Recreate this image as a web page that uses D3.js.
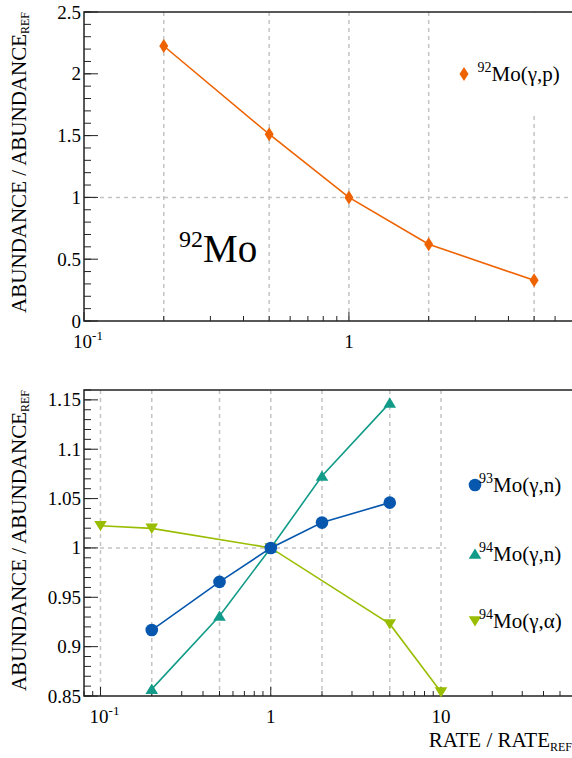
<!DOCTYPE html>
<html><head><meta charset="utf-8">
<script src="https://cdn.jsdelivr.net/npm/d3@7"></script>
<style>body{margin:0;background:#fff}svg{display:block}</style>
</head><body><svg id="c" width="572" height="758" font-family="'Liberation Serif', 'DejaVu Serif', serif"></svg>
<script>
// ---------- data ----------
const topRates = [0.2, 0.5, 1, 2, 5];
const mo92gp = [2.225, 1.511, 1.0, 0.621, 0.329];

const botRatesN = [0.2, 0.5, 1, 2, 5];
const mo93gn = [0.9168, 0.9656, 1.0, 1.0257, 1.0459];
const mo94gn = [0.857, 0.931, 1.0, 1.0728, 1.147];
const botRatesA = [0.1, 0.2, 1, 5, 10];
const mo94ga = [1.0225, 1.0198, 1.0, 0.923, 0.854];

const topYTicks = [0, 0.5, 1, 1.5, 2, 2.5];
const botYTicks = [0.85, 0.9, 0.95, 1, 1.05, 1.1, 1.15];
const topXLabels = [[0.1, "10", "-1"], [1, "1", ""]];
const botXLabels = [[0.1, "10", "-1"], [1, "1", ""], [10, "10", ""]];
const topGridX = [0.2, 0.5, 1, 2, 5];
const botGridX = [0.1, 0.2, 0.5, 1, 2, 5, 10];

const colOrange = "#ee6300", colBlue = "#0657ad", colTeal = "#129b88", colLime = "#99bd00";

const svg = d3.select("#c");
const gridCol = "#c4c4c4";
const FS = 19, TFS = 21, SUB = 12;

function minorLog(domain) {
  const out = [];
  for (let e = -2; e <= 2; e++) for (let m = 1; m <= 9; m++) {
    const v = m * Math.pow(10, e);
    if (v >= domain[0] && v <= domain[1]) out.push(v);
  }
  return out;
}

function panel(o) {
  const g = svg.append("g");
  const x = o.x, y = o.y;
  const [x0, x1] = x.range(), [yb, yt] = y.range();
  g.selectAll(".gx").data(o.gridX).join("line")
    .attr("x1", d => x(d)).attr("x2", d => x(d)).attr("y1", yt).attr("y2", yb)
    .attr("stroke", gridCol).attr("stroke-width", 1.5).attr("stroke-dasharray", "4,4");
  g.append("line").attr("x1", x0).attr("x2", x1).attr("y1", y(1)).attr("y2", y(1))
    .attr("stroke", gridCol).attr("stroke-width", 1.5).attr("stroke-dasharray", "4,4");
  g.append("rect").attr("x", o.leg[0]).attr("y", o.leg[1]).attr("width", o.leg[2]).attr("height", o.leg[3]).attr("fill", "#fff");
  g.append("path").attr("d", `M${x1 + 5},${yt}H${x0}V${yb}H${x1 + 5}`).attr("fill", "none").attr("stroke", "#222").attr("stroke-width", 1.5);
  const yMin = [];
  for (let v = y.domain()[0]; v <= y.domain()[1] + 1e-9; v += o.yMinorStep) yMin.push(+v.toFixed(4));
  g.selectAll(".ym").data(yMin).join("line").attr("x1", x0).attr("x2", x0 + 7).attr("y1", d => y(d)).attr("y2", d => y(d)).attr("stroke", "#222").attr("stroke-width", 1);
  g.selectAll(".yM").data(o.yTicks).join("line").attr("x1", x0).attr("x2", x0 + 14).attr("y1", d => y(d)).attr("y2", d => y(d)).attr("stroke", "#222").attr("stroke-width", 1);
  g.selectAll(".yl").data(o.yTicks).join("text").attr("x", x0 - 3).attr("y", d => y(d) + 6.5)
    .attr("text-anchor", "end").attr("font-size", FS).text(d => d3.format("")(d));
  const xMin = minorLog(x.domain());
  g.selectAll(".xm").data(xMin).join("line").attr("x1", d => x(d)).attr("x2", d => x(d)).attr("y1", yb).attr("y2", d => yb - ((Math.abs(Math.log10(d) - Math.round(Math.log10(d))) < 1e-9) ? 9 : 5)).attr("stroke", "#222").attr("stroke-width", 1);
  const xl = g.selectAll(".xl").data(o.xLabels).join("text").attr("x", d => x(d[0]) + (d[2] ? 4 : 0)).attr("y", yb + 27)
    .attr("text-anchor", "middle").attr("font-size", FS);
  xl.append("tspan").text(d => d[1]);
  xl.append("tspan").attr("font-size", 13).attr("dy", -8).text(d => d[2]);
  const yt0 = g.append("text").attr("transform", `translate(25.5,${yt}) rotate(-90)`).attr("text-anchor", "end").attr("font-size", TFS);
  yt0.append("tspan").text("ABUNDANCE / ABUNDANCE");
  yt0.append("tspan").attr("font-size", SUB).attr("dy", 3).text("REF");
  return g;
}

function series(g, x, y, xs, ys, col, shape) {
  const line = d3.line().x((d, i) => x(xs[i])).y(d => y(d));
  g.append("path").attr("d", line(ys)).attr("fill", "none").attr("stroke", col).attr("stroke-width", 1.6);
  g.selectAll(null).data(ys).join("path")
    .attr("transform", (d, i) => `translate(${x(xs[i])},${y(d)})`)
    .attr("d", shape).attr("fill", col);
}
const diamond = "M0,-7L4.5,0L0,7L-4.5,0Z";
const circle = d3.symbol(d3.symbolCircle, 125)();
const triUp = "M0,-5.5L6.3,4.8L-6.3,4.8Z";
const triDown = "M0,5.5L6.3,-4.8L-6.3,-4.8Z";

// ---------- top panel ----------
const xT = d3.scaleLog().domain([0.1, 6.95]).range([84, 572]);
const yT = d3.scaleLinear().domain([0, 2.5]).range([321, 12]);
const gT = panel({x: xT, y: yT, gridX: topGridX, yTicks: topYTicks, yMinorStep: 0.1, xLabels: topXLabels, leg: [446, 13, 130, 100]});
series(gT, xT, yT, topRates, mo92gp, colOrange, diamond);
const lab = gT.append("text").attr("x", 179).attr("y", 262).attr("font-size", 39);
lab.append("tspan").attr("font-size", 24).attr("dy", -15).text("92");
lab.append("tspan").attr("dy", 15).text("Mo");
function legendItem(g, lx, ly, tx, col, shape, sup, txt) {
  g.append("path").attr("transform", `translate(${lx},${ly})`).attr("d", shape).attr("fill", col);
  const t = g.append("text").attr("x", tx).attr("y", ly + 6.5).attr("font-size", 21);
  t.append("tspan").attr("font-size", 14).attr("dy", -9).text(sup);
  t.append("tspan").attr("dy", 9).text(txt);
}
legendItem(gT, 464, 74, 477.5, colOrange, diamond, "92", "Mo(γ,p)");

// ---------- bottom panel ----------
const xB = d3.scaleLog().domain([0.08, 58.8]).range([84, 572]);
const yB = d3.scaleLinear().domain([0.85, 1.16]).range([696, 390]);
const gB = panel({x: xB, y: yB, gridX: botGridX, yTicks: botYTicks, yMinorStep: 0.01, xLabels: botXLabels, leg: [446, 440, 130, 220]});
series(gB, xB, yB, botRatesA, mo94ga, colLime, triDown);
series(gB, xB, yB, botRatesN, mo94gn, colTeal, triUp);
series(gB, xB, yB, botRatesN, mo93gn, colBlue, circle);
legendItem(gB, 475, 485, 479, colBlue, circle, "93", "Mo(γ,n)");
legendItem(gB, 475, 554, 479, colTeal, triUp, "94", "Mo(γ,n)");
legendItem(gB, 475, 621, 479, colLime, triDown, "94", "Mo(γ,α)");
const xt = gB.append("text").attr("x", 572).attr("y", 747).attr("text-anchor", "end").attr("font-size", TFS);
xt.append("tspan").text("RATE / RATE");
xt.append("tspan").attr("font-size", SUB).attr("dy", 4).text("REF");
</script></body></html>
